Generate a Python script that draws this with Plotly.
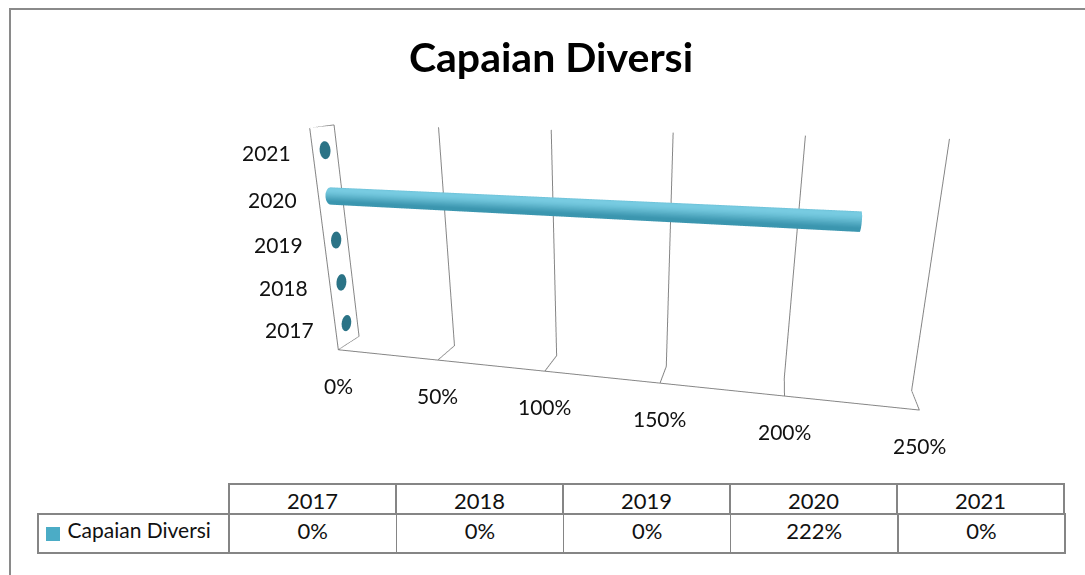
import numpy as np
import plotly.graph_objects as go

# ---- data -------------------------------------------------------------
years = ["2017", "2018", "2019", "2020", "2021"]
capaian = [0.0, 0.0, 0.0, 2.22, 0.0]          # fraction (2.22 = 222%)
series_name = "Capaian Diversi"
value_ticks = [0, 0.5, 1.0, 1.5, 2.0, 2.5]

FONT = "Lato, 'Open Sans', sans-serif"
GRID = "#858585"
SERIES_COLOR = "#4bacc6"
BAR_DARK = np.array([0x22, 0x7f, 0x9a])
BAR_LIGHT = np.array([0x78, 0xcc, 0xe2])
CAP_ZERO = "#2b7386"
CAP_END = "#4fb3cd"

ASPECT = dict(x=2.5, y=0.17, z=1.0)
z_range = [-0.5, len(years) - 0.5]
y_range = [0, 1]
x_range = [value_ticks[0], value_ticks[-1]]


def rgb(c):
    c = np.clip(c, 0, 255).astype(int)
    return f"rgb({c[0]},{c[1]},{c[2]})"


def cylinder(value, zc, r_z, yc, n=48):
    """Horizontal cylinder along x from 0 to value, centred at (yc, zc)."""
    # keep the cross-section round in scene space
    z_unit = ASPECT["z"] / (z_range[1] - z_range[0])
    y_unit = ASPECT["y"] / (y_range[1] - y_range[0])
    r_y = r_z * z_unit / y_unit
    th = np.linspace(0, 2 * np.pi, n, endpoint=False)
    ys = yc + r_y * np.cos(th)
    zs = zc + r_z * np.sin(th)
    x = np.concatenate([np.zeros(n), np.full(n, value), [0, value]])
    y = np.concatenate([ys, ys, [yc, yc]])
    z = np.concatenate([zs, zs, [zc, zc]])
    I, J, K, col = [], [], [], []
    light = np.array([-0.5, 0.85])          # (y, z) direction of the light
    light = light / np.linalg.norm(light)
    cap_col = CAP_ZERO if value == 0 else CAP_END
    for a in range(n):
        b = (a + 1) % n
        mid = (th[a] + th[b]) / 2
        inten = max(0.0, np.cos(mid) * light[0] + np.sin(mid) * light[1])
        c = rgb(BAR_DARK + (BAR_LIGHT - BAR_DARK) * (0.3 + 0.7 * inten ** 1.5))
        I += [a, a]; J += [b, n + b]; K += [n + b, n + a]; col += [c, c]
        I += [2 * n, 2 * n + 1]; J += [b, n + a]; K += [a, n + b]
        col += [cap_col, cap_col]
    return go.Mesh3d(x=x, y=y, z=z, i=I, j=J, k=K, facecolor=col,
                     flatshading=True, hoverinfo="skip", showscale=False,
                     lighting=dict(ambient=1, diffuse=0, specular=0,
                                   roughness=1, fresnel=0))


fig = go.Figure()
for idx, v in enumerate(capaian):
    fig.add_trace(cylinder(v, idx, 0.19, 0.5))

# outline of the left side wall
fig.add_trace(go.Scatter3d(
    x=[x_range[0]] * 3, y=[y_range[0], y_range[0], y_range[1]],
    z=[z_range[0], z_range[1], z_range[1]], mode="lines",
    line=dict(color=GRID, width=2), hoverinfo="skip", showlegend=False))

# axis labels kept horizontal
scene_ann = []
for t in value_ticks:
    scene_ann.append(dict(x=t, y=y_range[0], z=z_range[0], text=f"{t:.0%}",
                          showarrow=False, xanchor="center", yanchor="top",
                          yshift=-21, font=dict(family=FONT, size=21, color="#111")))
for idx, yr in enumerate(years):
    scene_ann.append(dict(x=x_range[0], y=y_range[0], z=idx, text=yr,
                          showarrow=False, xanchor="right", yanchor="middle",
                          xshift=-20, font=dict(family=FONT, size=21, color="#111")))

# data table under the chart: year header row, then the series row
fmt = [f"{v:.0%}" for v in capaian]
fig.add_trace(go.Table(
    domain=dict(x=[229 / 1085, 1065 / 1085], y=[0.0, 1 - 484 / 575]),
    columnwidth=[1] * len(years),
    header=dict(values=years, height=30, line=dict(color=GRID, width=1.5),
                fill=dict(color="white"), align="center",
                font=dict(family=FONT, size=22, color="#111")),
    cells=dict(values=[[] for _ in years], height=0),
))
fig.add_trace(go.Table(
    domain=dict(x=[38 / 1085, 1065 / 1085], y=[0.0, 1 - 514 / 575]),
    columnwidth=[191] + [167] * len(years),
    header=dict(values=["\u00a0\u00a0\u00a0\u00a0" + series_name] + fmt, height=39,
                line=dict(color=GRID, width=1.5), fill=dict(color="white"),
                align=["left"] + ["center"] * len(years),
                font=dict(family=FONT, size=[21] + [22] * len(years), color="#111")),
    cells=dict(values=[[] for _ in range(len(years) + 1)], height=0),
))

axis_common = dict(showbackground=False, zeroline=False, showspikes=False,
                   title=dict(text=""), ticks="", showticklabels=False)
fig.update_layout(
    width=1085, height=575, margin=dict(l=0, r=0, t=0, b=0),
    paper_bgcolor="white", showlegend=False,
    title=dict(text="<b>Capaian Diversi</b>", x=551 / 1085, xanchor="center",
               y=1 - 58 / 575, yanchor="middle",
               font=dict(family=FONT, size=41, color="black")),
    scene=dict(
        domain=dict(x=[0.117, 1.0], y=[0.0, 1.0]),
        xaxis=dict(range=x_range, tickvals=value_ticks,
                   showgrid=True, gridcolor=GRID, gridwidth=2,
                   showline=True, linecolor=GRID, linewidth=2, **axis_common),
        yaxis=dict(range=y_range, showgrid=False, showline=False, **axis_common),
        zaxis=dict(range=z_range, tickvals=list(range(len(years))),
                   showgrid=False, showline=False, **axis_common),
        aspectmode="manual", aspectratio=ASPECT,
        camera=dict(eye=dict(x=0.6415, y=-2.6726, z=0.763),
                    center=dict(x=0, y=0, z=-0.13),
                    up=dict(x=0, y=0, z=1),
                    projection=dict(type="perspective")),
        annotations=scene_ann,
        dragmode=False,
    ),
    shapes=[
        dict(type="rect", xref="paper", yref="paper",
             x0=10 / 1085, x1=1.02, y0=-0.02, y1=1 - 9 / 575,
             line=dict(color="#8a8a8a", width=2)),
        # legend key in the series row
        dict(type="rect", xref="paper", yref="paper",
             x0=46 / 1085, x1=60 / 1085, y0=1 - 541 / 575, y1=1 - 527 / 575,
             line=dict(width=0), fillcolor=SERIES_COLOR),
    ],
)

fig.write_html("out.html")
